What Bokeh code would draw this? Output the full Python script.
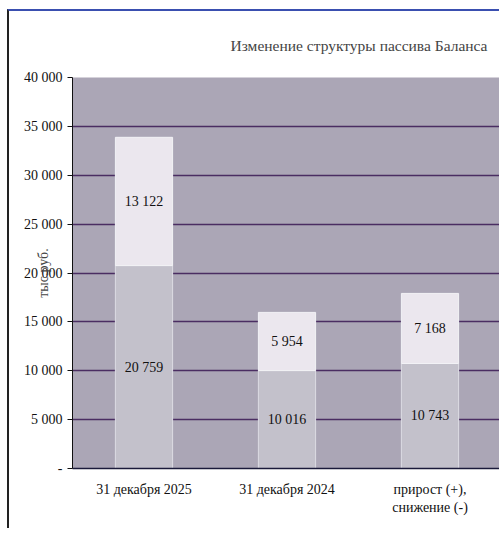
from bokeh.plotting import figure
from bokeh.models import ColumnDataSource, FixedTicker
from bokeh.core.properties import value
from bokeh.embed import file_html
from bokeh.resources import INLINE

categories = ["31 декабря 2025", "31 декабря 2024", "прирост (+),\nснижение (-)"]
lower_values = [20759, 10016, 10743]
upper_values = [13122, 5954, 7168]
y_ticks = [0, 5000, 10000, 15000, 20000, 25000, 30000, 35000, 40000]

def fmt(v):
    return "-" if v == 0 else f"{v:,}".replace(",", " ")

tops = [a + b for a, b in zip(lower_values, upper_values)]
src = ColumnDataSource(dict(
    cat=categories,
    lower=lower_values,
    upper=upper_values,
    top=tops,
    lower_mid=[v / 2 for v in lower_values],
    upper_mid=[a + b / 2 for a, b in zip(lower_values, upper_values)],
    lower_lbl=[fmt(v) for v in lower_values],
    upper_lbl=[fmt(v) for v in upper_values],
))

FONT = "Liberation Serif"
FS = "14px"

p = figure(x_range=categories, y_range=(0, 40000), width=492, height=519,
           output_backend="svg", toolbar_location=None,
           min_border_left=63, min_border_right=0, min_border_top=65, min_border_bottom=62,
           title="Изменение структуры пассива Баланса")
p.styles = {"margin-top": "9px", "margin-left": "7px",
            "border-top": "2px solid #3a4fb0", "border-left": "2px solid #222222"}

p.background_fill_color = "#aba6b6"
p.border_fill_color = "white"
p.outline_line_color = None

p.vbar(x="cat", bottom=0, top="lower", width=0.4, source=src,
       fill_color="#c3c1cb", line_color="#dcdce4", line_width=1)
p.vbar(x="cat", bottom="lower", top="top", width=0.4, source=src,
       fill_color="#ebe7ee", line_color="#f2f2f6", line_width=1)

p.text(x="cat", y="lower_mid", text="lower_lbl", source=src,
       text_align="center", text_baseline="middle",
       text_font=value(FONT), text_font_size=FS, text_color="#111111")
p.text(x="cat", y="upper_mid", text="upper_lbl", source=src,
       text_align="center", text_baseline="middle",
       text_font=value(FONT), text_font_size=FS, text_color="#111111")

p.title.text_font = FONT
p.title.text_font_size = "15.5px"
p.title.text_font_style = "normal"
p.title.align = "right"
p.title.standoff = 47
p.title.offset = 14

p.xgrid.grid_line_color = None
p.ygrid.ticker = FixedTicker(ticks=y_ticks)
p.ygrid.grid_line_color = "#4a2d62"
p.ygrid.grid_line_width = 1.5
p.ygrid.level = "underlay"

p.yaxis.ticker = FixedTicker(ticks=y_ticks)
p.yaxis.major_label_overrides = {t: fmt(t) for t in y_ticks}
p.yaxis.major_label_text_font = FONT
p.yaxis.major_label_text_font_size = FS
p.yaxis.major_label_text_color = "#111111"
p.yaxis.axis_line_color = "#111111"
p.yaxis.major_tick_line_color = "#111111"
p.yaxis.major_tick_out = 5
p.yaxis.major_tick_in = 0
p.yaxis.minor_tick_line_color = None
p.yaxis.axis_label = "тыс.руб."
p.yaxis.axis_label_text_font = FONT
p.yaxis.axis_label_text_font_size = FS
p.yaxis.axis_label_text_font_style = "normal"
p.yaxis.axis_label_standoff = -30

p.xaxis.major_label_text_font = FONT
p.xaxis.major_label_text_font_size = FS
p.xaxis.major_label_text_color = "#111111"
p.xaxis.axis_line_color = "#1a1a3a"
p.xaxis.axis_line_width = 1.5
p.xaxis.major_tick_line_color = None
p.xaxis.major_label_standoff = 7

open("out.html", "w").write(file_html(p, INLINE))
